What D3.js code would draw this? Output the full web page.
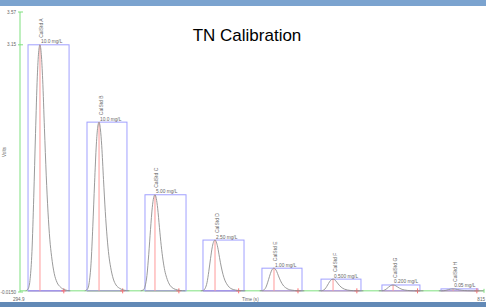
<!DOCTYPE html>
<html>
<head>
<meta charset="utf-8">
<script src="https://cdn.jsdelivr.net/npm/d3@7"></script>
<style>
  body { margin: 0; background: #fff; }
  svg { display: block; font-family: "Liberation Sans", Arial, sans-serif; }
</style>
</head>
<body>
<div id="chart"></div>
<script>
// Peak data
const standards = ["CalStd A", "CalStd B", "CalStd C", "CalStd D", "CalStd E", "CalStd F", "CalStd G", "CalStd H"];
const concLabels = ["10.0 mg/L", "10.0 mg/L", "5.00 mg/L", "2.50 mg/L", "1.00 mg/L", "0.500 mg/L", "0.200 mg/L", "0.05 mg/L"];
const apexTimes = [317.3, 383.5, 446.2, 513.5, 579.6, 645.8, 713.1, 780.4];
const peakHeights = [3.15, 2.16, 1.23, 0.65, 0.29, 0.15, 0.075, 0.025];
const startTimes = [303.9, 370.0, 435.0, 500.0, 566.1, 632.3, 700.6, 766.8];
const endTimes = [349.9, 414.8, 481.0, 546.0, 611.0, 677.1, 743.2, 808.3];
const endMarks = [344.0, 410.0, 473.0, 540.0, 606.5, 672.5, 740.5, 807.0];
const baseColors = ["#b050c8", "#a8a838", "#a8a838", "#b050c8", "#ff8c8c", "#ff8c8c", "#ff8c8c", "#ff8c8c"];

// peak profile (seconds from apex, fraction of peak height), read from peak A
const profileDt = [-16, -13, -11, -9, -7, -5, -3, -1.5, 0, 1.5, 3, 5, 7, 9, 11, 13, 16, 19, 23, 28, 34];
const profileFrac = [0, 0.01, 0.05, 0.16, 0.38, 0.64, 0.87, 0.97, 1, 0.96, 0.86, 0.66, 0.47, 0.32, 0.21, 0.14, 0.07, 0.035, 0.015, 0.004, 0];

const yTicks = [3.57, 3.15, -0.0150];
const yTickLabels = ["3.57", "3.15", "-0.0150"];

const width = 486;
const height = 307;

const svg = d3.select("#chart")
  .append("svg")
  .attr("width", width)
  .attr("height", height);

// header / footer bars
svg.append("rect").attr("x", 0).attr("y", 0).attr("width", width).attr("height", 6).attr("fill", "#7ba3cf");
svg.append("rect").attr("x", 0).attr("y", 302).attr("width", width).attr("height", 5).attr("fill", "#6289b6");

// title
svg.append("text")
  .attr("x", 247)
  .attr("y", 41)
  .attr("text-anchor", "middle")
  .attr("font-size", 17)
  .attr("fill", "#000")
  .text("TN Calibration");

// scales
const x = d3.scaleLinear().domain([294.9, 815.0]).range([20, 484]);
const y = d3.scaleLinear().domain([-0.0150, 3.57]).range([292, 12]);

const axisColor = "#7fe07f";

// y axis
svg.append("line")
  .attr("x1", x(294.9)).attr("x2", x(294.9))
  .attr("y1", y(3.57)).attr("y2", y(-0.015))
  .attr("stroke", axisColor);

yTicks.forEach((t, i) => {
  svg.append("line")
    .attr("x1", x(294.9) - 2).attr("x2", x(294.9) + 3)
    .attr("y1", y(t)).attr("y2", y(t))
    .attr("stroke", axisColor);
  svg.append("text")
    .attr("x", 16)
    .attr("y", y(t) + 1.6)
    .attr("text-anchor", "end")
    .attr("font-size", 4.6)
    .attr("fill", "#666")
    .text(yTickLabels[i]);
});

svg.append("text")
  .attr("transform", `translate(6, 152) rotate(-90)`)
  .attr("text-anchor", "middle")
  .attr("font-size", 4.6)
  .attr("fill", "#666")
  .text("Volts");

// x axis labels
svg.append("text").attr("x", 13).attr("y", 301).attr("font-size", 4.6).attr("fill", "#666").text("294.9");
svg.append("text").attr("x", 242).attr("y", 301).attr("font-size", 4.6).attr("fill", "#666").text("Time  (s)");
svg.append("text").attr("x", 485).attr("y", 301).attr("text-anchor", "end").attr("font-size", 4.6).attr("fill", "#666").text("815");

// baseline
svg.append("line")
  .attr("x1", x(294.9)).attr("x2", x(815.0))
  .attr("y1", y(0)).attr("y2", y(0))
  .attr("stroke", axisColor);
svg.append("line")
  .attr("x1", x(815.0)).attr("x2", x(815.0))
  .attr("y1", y(0) - 2).attr("y2", y(0) + 2)
  .attr("stroke", axisColor);

const line = d3.line()
  .curve(d3.curveMonotoneX)
  .x(d => x(d[0]))
  .y(d => y(d[1]));

standards.forEach((name, i) => {
  const apex = apexTimes[i];
  const h = peakHeights[i];

  // baseline under peak
  svg.append("line")
    .attr("x1", x(startTimes[i])).attr("x2", x(endMarks[i]))
    .attr("y1", y(0)).attr("y2", y(0))
    .attr("stroke", baseColors[i]);

  // integration box
  svg.append("rect")
    .attr("x", x(startTimes[i]))
    .attr("y", y(h))
    .attr("width", x(endTimes[i]) - x(startTimes[i]))
    .attr("height", y(0) - y(h))
    .attr("fill", "none")
    .attr("stroke", "#a0a0ff");

  // apex line
  svg.append("line")
    .attr("x1", x(apex)).attr("x2", x(apex))
    .attr("y1", y(0)).attr("y2", y(h))
    .attr("stroke", "#ff9a9a");

  // end marker
  svg.append("line")
    .attr("x1", x(endMarks[i])).attr("x2", x(endMarks[i]))
    .attr("y1", y(0) - 2.5).attr("y2", y(0) + 2.5)
    .attr("stroke", "#ff7070");
  svg.append("line")
    .attr("x1", x(endMarks[i]) - 2.5).attr("x2", x(endMarks[i]) + 2.5)
    .attr("y1", y(0)).attr("y2", y(0))
    .attr("stroke", "#ff7070");

  // peak trace
  const pts = profileDt.map((dt, k) => [apex + dt, profileFrac[k] * h]);
  svg.append("path")
    .datum(pts)
    .attr("fill", "none")
    .attr("stroke", "#8f8f8f")
    .attr("stroke-width", 0.9)
    .attr("d", line);

  // labels
  svg.append("text")
    .attr("x", x(apex) + 1)
    .attr("y", y(h) - 1.5)
    .attr("font-size", 4.8)
    .attr("fill", "#666")
    .text(concLabels[i]);
  svg.append("text")
    .attr("transform", `translate(${x(apex) + 3.5}, ${y(h) - 7}) rotate(-90)`)
    .attr("font-size", 5)
    .attr("fill", "#666")
    .text(name);
});
</script>
</body>
</html>
